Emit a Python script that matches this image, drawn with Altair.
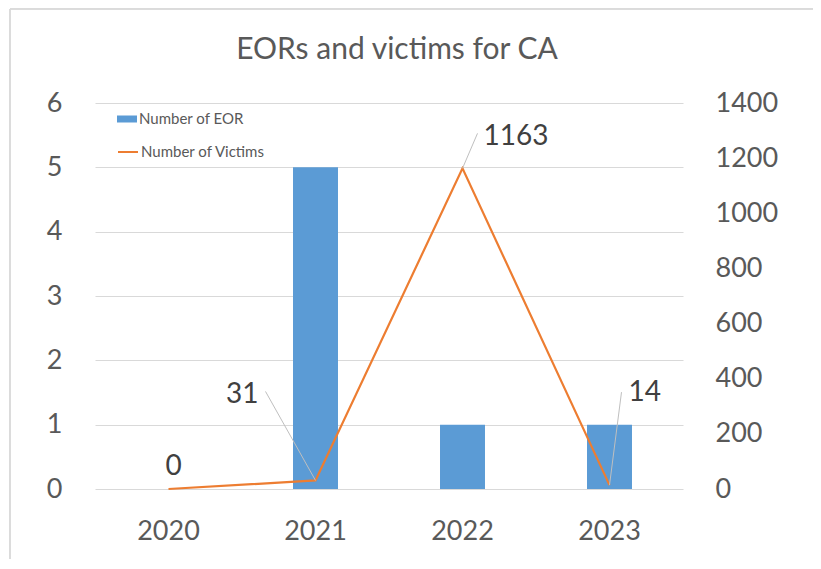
import altair as alt
import pandas as pd

years = ["2020", "2021", "2022", "2023"]
eor_counts = [0, 5, 1, 1]
victims = [0, 31, 1163, 14]
series_bar = "Number of EOR"
series_line = "Number of Victims"

df = pd.DataFrame({"year": years, "eor": eor_counts, "victims": victims})
df["s1"] = series_bar
df["s2"] = series_line

FONT = "Lato"
GRAY = "#595959"
BLUE = "#5B9BD5"
ORANGE = "#ED7D31"
GRID = "#d9d9d9"

x_enc = alt.X(
    "year:N", title=None, sort=years,
    scale=alt.Scale(paddingInner=0.694, paddingOuter=0.347),
    axis=alt.Axis(labelAngle=0, labelFontSize=27, labelColor=GRAY, labelPadding=29,
                  domain=False, ticks=False, labelFont=FONT, grid=False),
)

y_left = alt.Y(
    "eor:Q", title=None, scale=alt.Scale(domain=[0, 6]),
    axis=alt.Axis(values=[0, 1, 2, 3, 4, 5, 6], labelFontSize=27, labelColor=GRAY,
                  labelFont=FONT, labelPadding=33, domain=False, ticks=False,
                  grid=True, gridColor=GRID),
)

y_right = alt.Y(
    "victims:Q", title=None, scale=alt.Scale(domain=[0, 1400]),
    axis=alt.Axis(orient="right", values=[0, 200, 400, 600, 800, 1000, 1200, 1400],
                  format="d", labelFontSize=27, labelColor=GRAY, labelFont=FONT,
                  labelPadding=32, domain=False, ticks=False, grid=False),
)

base = alt.Chart(df)

bars = base.mark_bar().encode(
    x=x_enc,
    y=y_left,
    fill=alt.Fill("s1:N", title=None, scale=alt.Scale(range=[BLUE]),
                  legend=alt.Legend(orient="none", legendX=22, legendY=6, padding=0,
                                    symbolType="M-1,-0.35H1V0.35H-1Z", symbolSize=400,
                                    symbolStrokeWidth=0, labelFontSize=15, labelColor=GRAY,
                                    labelFont=FONT, labelOffset=2)),
)

line = base.mark_line(strokeWidth=2.2).encode(
    x=x_enc,
    y=y_right,
    stroke=alt.Stroke("s2:N", title=None, scale=alt.Scale(range=[ORANGE]),
                      legend=alt.Legend(orient="none", legendX=22, legendY=38, padding=0,
                                        symbolType="stroke", symbolSize=400,
                                        symbolStrokeWidth=2, labelFontSize=15,
                                        labelColor=GRAY, labelFont=FONT, labelOffset=2)),
)

# label placement per point: (dx, dy, align, leader dx, leader dy)
label_style = {
    "2020": (5, -22, "center", None, None),
    "2021": (-57, -85, "right", -50, -89),
    "2022": (21, -31, "left", 15, -35),
    "2023": (19, -92, "left", 12, -93),
}

layers = [line]
for yr, (dx, dy, al, ldx, ldy) in label_style.items():
    sub = base.transform_filter(alt.datum.year == yr)
    if ldx is not None:
        layers.append(
            sub.mark_rule(color="#bfbfbf", strokeWidth=1, x2Offset=ldx, y2Offset=ldy).encode(
                x=alt.X("year:N", sort=years, bandPosition=0.5),
                y=alt.Y("victims:Q"),
                x2=alt.X2("year:N", bandPosition=0.5),
                y2=alt.Y2("victims:Q"),
            )
        )
    layers.append(
        sub.mark_text(dx=dx, dy=dy, align=al, baseline="middle", fontSize=28,
                      font=FONT, color="#404040").encode(
            x=alt.X("year:N", sort=years),
            y=alt.Y("victims:Q"),
            text=alt.Text("victims:Q"),
        )
    )

right_layer = alt.layer(*layers)

frame_left = alt.Chart(df).mark_rule(color=GRID, strokeWidth=1).encode(
    x=alt.value(-85), y=alt.value(-94), y2=alt.value(480))
frame_top = alt.Chart(df).mark_rule(color=GRID, strokeWidth=1).encode(
    x=alt.value(-85), x2=alt.value(726), y=alt.value(-94))

chart = alt.layer(frame_left, frame_top, bars, right_layer).resolve_scale(
    y="independent", fill="independent", stroke="independent"
).properties(
    width=588, height=386,
    title=alt.TitleParams("EORs and victims for CA", fontSize=30, font=FONT, color=GRAY,
                          fontWeight="normal", offset=-56, frame="group", dx=8),
    autosize=alt.AutoSizeParams(type="none"),
    padding={"left": 87, "top": 95, "right": 130, "bottom": 70},
    background="white",
).configure_view(strokeWidth=0, stroke=None)

chart.save("out.html", embed_options={"renderer": "svg", "actions": False})
